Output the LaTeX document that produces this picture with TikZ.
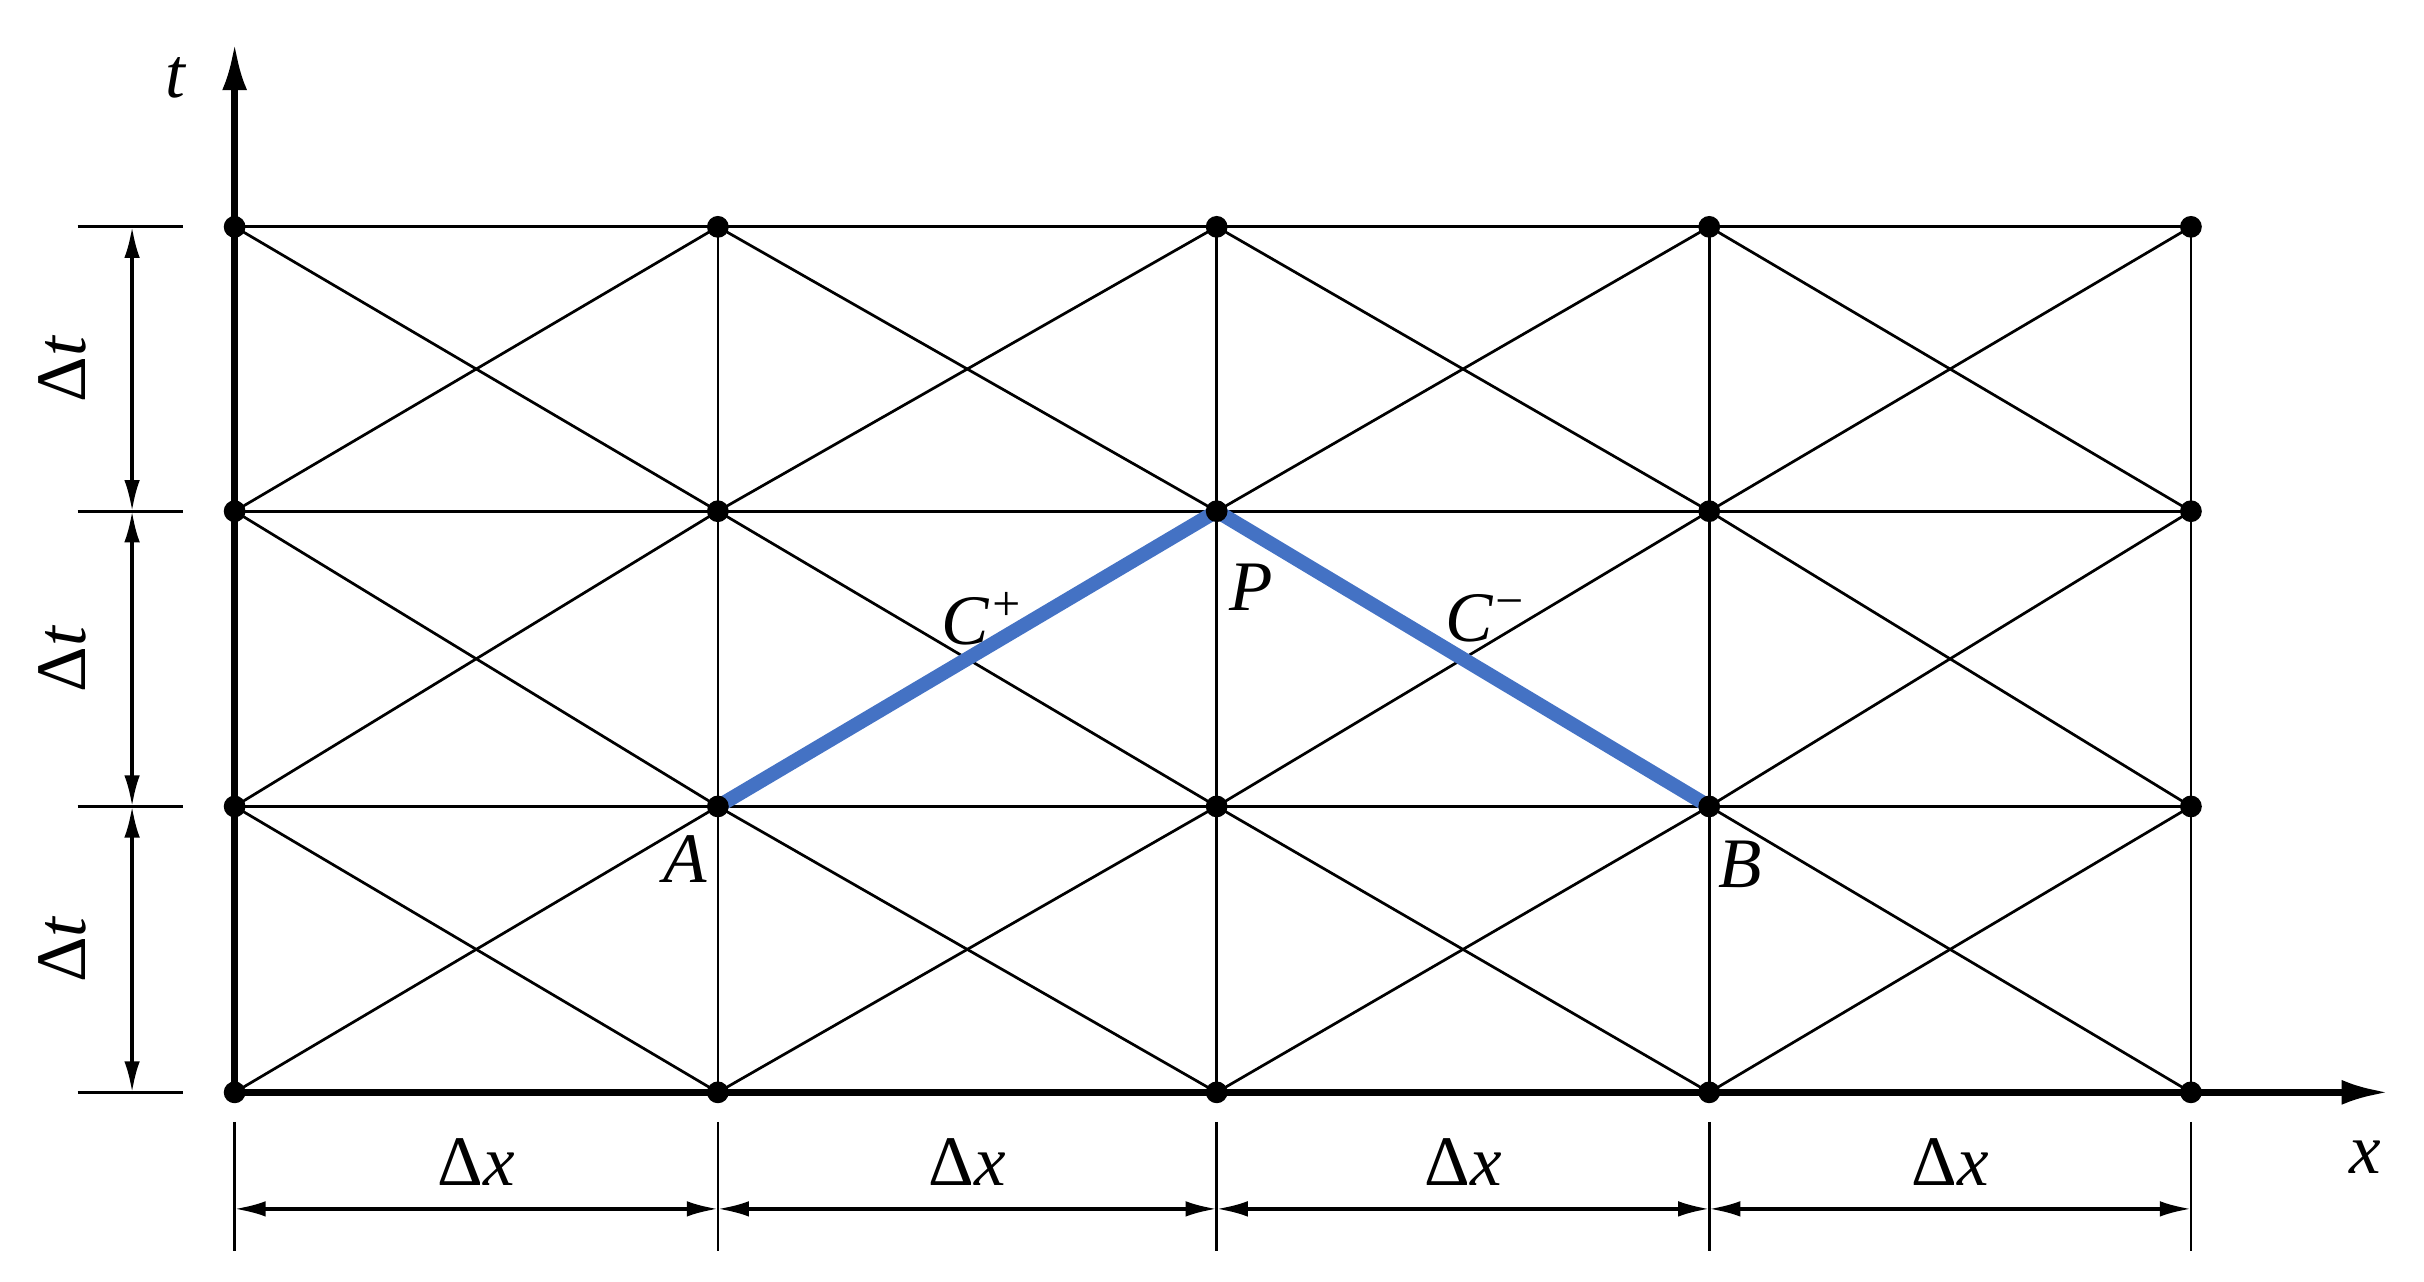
\documentclass[tikz,border=0pt]{standalone}
\usepackage{fontspec}
\setmainfont{Liberation Serif}
\usetikzlibrary{arrows.meta}
\begin{document}
\begin{tikzpicture}[x=0.01cm,y=-0.01cm,
  dot/.style={circle,fill=black,inner sep=0pt,minimum size=0.14cm},
  grid/.style={line width=0.5pt},
  axis/.style={line width=1.2pt,-{Latex[length=0.3cm,width=0.16cm]}},
  dim/.style={line width=0.6pt,{Latex[length=0.2cm,width=0.1cm]}-{Latex[length=0.2cm,width=0.1cm]}},
  lab/.style={font=\fontsize{13}{15}\selectfont\itshape},
  dl/.style={font=\fontsize{13}{15}\selectfont},
  blue/.style={line width=2.6pt,draw={rgb,255:red,68;green,114;blue,196}}]
\useasboundingbox (0,0) rectangle (1560,825);
\def\xs{151,462,783,1100,1410}
\foreach \x [count=\i] in \xs {
  \foreach \y [count=\j] in {146,329,519,703} {
    \coordinate (p-\i-\j) at (\x,\y);
  }
}
% grid lines
\foreach \j in {1,...,4} \draw[grid] (p-1-\j) -- (p-5-\j);
\foreach \i in {2,...,5} \draw[grid] (p-\i-1) -- (p-\i-4);
\foreach \i/\n in {1/2,2/3,3/4,4/5}
  \foreach \j/\m in {1/2,2/3,3/4} {
    \draw[grid] (p-\i-\j) -- (p-\n-\m);
    \draw[grid] (p-\i-\m) -- (p-\n-\j);
  }
% axes
\coordinate (tend) at (151,28);
\coordinate (xend) at (1537,703);
\draw[axis] (p-1-4) -- (tend);
\draw[axis] (p-1-4) -- (xend);
\node[lab] (tl) at (113,50) {t};
\node[lab] (xl) at (1522,745) {x};
% blue characteristics
\draw[blue] (p-2-3) -- (p-3-2) -- (p-4-3);
% dots
\foreach \i in {1,...,5} \foreach \j in {1,...,4} \node[dot] (d-\i-\j) at (p-\i-\j) {};
% labels
\node[lab] (cp) at (633,398) {C\textsuperscript{+}};
\node[lab] (cm) at (957,398) {C\textsuperscript{−}};
\node[lab] (P) at (805,378) {P};
\node[lab] (A) at (441,553) {A};
\node[lab] (B) at (1120,556) {B};
% left dimensions
\foreach \y [count=\j] in {146,329,519,703} {
  \coordinate (la-\j) at (50,\y); \coordinate (lb-\j) at (118,\y);
  \draw[grid] (la-\j) -- (lb-\j);
  \coordinate (lm-\j) at (85,\y);
}
\foreach \j/\m in {1/2,2/3,3/4} {
  \draw[dim] (lm-\j) -- (lm-\m);
  \path (lm-\j) -- (lm-\m) node[midway,xshift=-0.45cm,rotate=90,dl] (dt-\j) {Δ\textit{t}};
}
% bottom dimensions
\foreach \x [count=\i] in \xs {
  \coordinate (ba-\i) at (\x,722); \coordinate (bb-\i) at (\x,805);
  \draw[grid] (ba-\i) -- (bb-\i);
  \coordinate (bm-\i) at (\x,778);
}
\foreach \i/\n in {1/2,2/3,3/4,4/5} {
  \draw[dim] (bm-\i) -- (bm-\n);
  \path (bm-\i) -- (bm-\n) node[midway,yshift=0.3cm,dl] (dx-\i) {Δ\textit{x}};
}
\end{tikzpicture}
\end{document}
